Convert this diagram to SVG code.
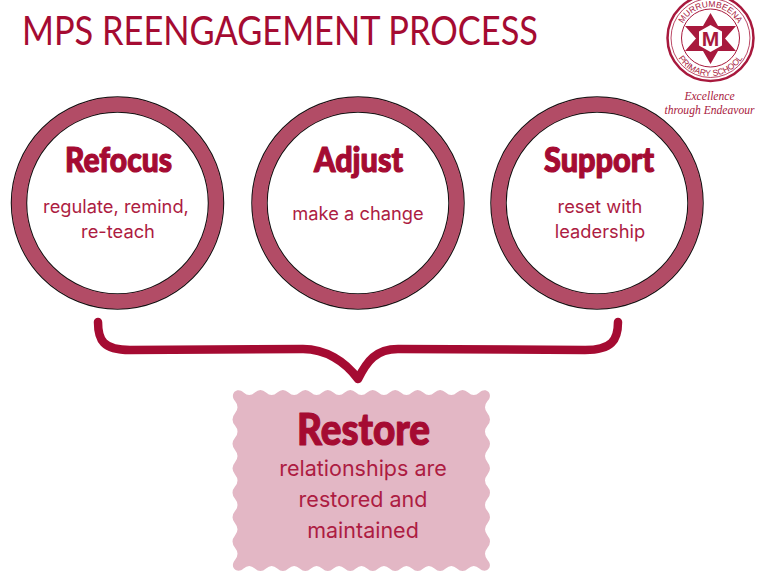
<svg xmlns="http://www.w3.org/2000/svg" width="761" height="581" viewBox="0 0 761 581">
<style>
.ring{fill:#fff;stroke:#111;stroke-width:1.5}
.band{fill:none;stroke:#B24C66;stroke-width:14.5}
.head{font-family:"Lato","Liberation Sans",sans-serif;font-weight:900;fill:#A50B32;stroke:#A50B32;stroke-width:1.2;stroke-linejoin:round;text-anchor:middle}
.body{font-family:"Inter","Liberation Sans",sans-serif;fill:#AD1C42;text-anchor:middle;font-size:18.300px}
.big{font-size:21.500px}
.logo{fill:#A8193D}
.motto{font-family:"Liberation Serif",serif;font-style:italic;font-size:11.600px;fill:#A8193D;text-anchor:middle}
</style>
<defs>
<path id="arcTop" d="M679.500 38A31 31 0 0 1 741.500 38"/>
<path id="arcBot" d="M672.500 38A38 38 0 0 0 748.500 38"/>
<g id="ringShape"><circle r="106" class="ring"/><circle r="91" class="ring"/><circle r="98.500" class="band"/></g>
</defs>
<rect width="761" height="581" fill="#fff"/>
<text id="title" x="22" y="45" font-family="Lato,'Liberation Sans',sans-serif" font-size="41" fill="#A50B32" textLength="516" lengthAdjust="spacingAndGlyphs">MPS REENGAGEMENT PROCESS</text>
<g id="logo">
<circle cx="710.500" cy="38" r="43" fill="none" stroke="#A8193D" stroke-width="2.500"/>
<circle cx="710.500" cy="38" r="39.500" fill="none" stroke="#A8193D" stroke-width="0.800"/>
<circle cx="710.500" cy="38" r="29" fill="none" stroke="#A8193D" stroke-width="1"/>
<polygon class="logo" points="710.500,13 718,26 736,26 725,38.500 736,51 718,51 710.500,64 703,51 685,51 696,38.500 685,26 703,26"/>
<polygon fill="#fff" points="710.500,25 722,31.500 722,45.500 710.500,52 699,45.500 699,31.500"/>
<text x="710.500" y="46" font-family="'Liberation Sans',sans-serif" font-weight="700" font-size="21" fill="#A8193D" text-anchor="middle">M</text>
<text font-family="'Liberation Sans',sans-serif" font-size="8.500" fill="#A8193D"><textPath href="#arcTop" startOffset="50%" text-anchor="middle">MURRUMBEENA</textPath></text>
<text font-family="'Liberation Sans',sans-serif" font-size="8.500" fill="#A8193D"><textPath href="#arcBot" startOffset="50%" text-anchor="middle">PRIMARY SCHOOL</textPath></text>
<text x="709.500" y="100" class="motto">Excellence</text>
<text x="709.500" y="113.500" class="motto">through Endeavour</text>
</g>
<g id="refocus">
<use href="#ringShape" transform="translate(117.500 203)"/>
<text x="118.500" y="172" class="head" font-size="35" textLength="107" lengthAdjust="spacingAndGlyphs">Refocus</text>
<text x="116" y="213" class="body">regulate, remind,</text>
<text x="118" y="238" class="body">re-teach</text>
</g>
<g id="adjust">
<use href="#ringShape" transform="translate(358 203)"/>
<text x="358.500" y="172" class="head" font-size="35" textLength="89" lengthAdjust="spacingAndGlyphs">Adjust</text>
<text x="358" y="220" class="body">make a change</text>
</g>
<g id="support">
<use href="#ringShape" transform="translate(597 203)"/>
<text x="599" y="172" class="head" font-size="35" textLength="110" lengthAdjust="spacingAndGlyphs">Support</text>
<text x="600" y="213" class="body">reset with</text>
<text x="600" y="238" class="body">leadership</text>
</g>
<g id="connectors">
<path d="M98 322C98 340 103 350 130 350L303 349C325 349 345 361 358 379C367 361 376 349 398 349L585 350C612 350 618 340 618 322" fill="none" stroke="#A50B32" stroke-width="8.500" stroke-linecap="round" stroke-linejoin="round"/>
</g>
<g id="restore">
<path fill="#E3B7C5" d="M243.600 392.500q5.615 5 11.229 0t11.229 0t11.229 0t11.229 0t11.229 0t11.229 0t11.229 0t11.229 0t11.229 0t11.229 0t11.229 0t11.229 0t11.229 0t11.229 0t11.229 0t11.229 0t11.229 0t11.229 0t11.229 0t11.229 0t11.229 0C486 386.500 494 394 487.500 401.100q-5 6.108 0 12.215t0 12.215t0 12.215t0 12.215t0 12.215t0 12.215t0 12.215t0 12.215t0 12.215t0 12.215t0 12.215t0 12.215t0 12.215C494 567 486 574.500 479.400 568.500q-5.615 -5 -11.229 0t-11.229 0t-11.229 0t-11.229 0t-11.229 0t-11.229 0t-11.229 0t-11.229 0t-11.229 0t-11.229 0t-11.229 0t-11.229 0t-11.229 0t-11.229 0t-11.229 0t-11.229 0t-11.229 0t-11.229 0t-11.229 0t-11.229 0t-11.229 0C237 574.500 229 567 235 559.900q5 -6.108 0 -12.215t0 -12.215t0 -12.215t0 -12.215t0 -12.215t0 -12.215t0 -12.215t0 -12.215t0 -12.215t0 -12.215t0 -12.215t0 -12.215t0 -12.215C229 394 237 386.500 243.600 392.500Z"/>
<text x="363.500" y="445" class="head" font-size="44" textLength="133" lengthAdjust="spacingAndGlyphs">Restore</text>
<text x="363" y="476" class="body big">relationships are</text>
<text x="363" y="507" class="body big">restored and</text>
<text x="363" y="538" class="body big">maintained</text>
</g>
</svg>
